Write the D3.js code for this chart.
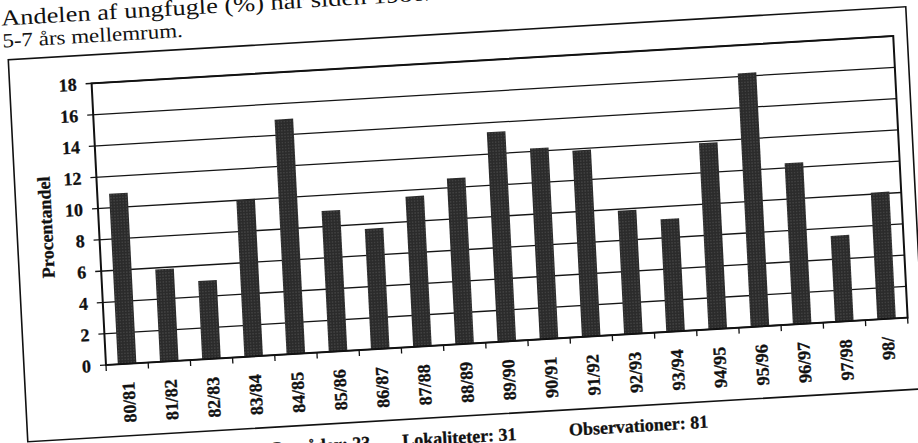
<!DOCTYPE html>
<html>
<head>
<meta charset="utf-8">
<script src="https://cdn.jsdelivr.net/npm/d3@7"></script>
<style>
  body { margin: 0; background: #fff; }
  svg { display: block; }
  text { font-family: "Liberation Serif", "Times New Roman", serif; fill: #111; }
</style>
</head>
<body>
<div id="chart"></div>
<script>
// data
var seasons = ["80/81", "81/82", "82/83", "83/84", "84/85", "85/86", "86/87", "87/88", "88/89", "89/90",
               "90/91", "91/92", "92/93", "93/94", "94/95", "95/96", "96/97", "97/98", "98/"];
var shares = [10.9, 5.9, 5.0, 10.0, 15.0, 9.0, 7.7, 9.6, 10.6, 13.4,
              12.2, 11.9, 7.9, 7.2, 11.9, 16.2, 10.3, 5.5, 8.1];
var yTicks = [0, 2, 4, 6, 8, 10, 12, 14, 16, 18];
var titleLines = ["Andelen af ungfugle (%) har siden 1980/81 svinget med toppe med",
                  "5-7 års mellemrum."];
var yTitle = "Procentandel";
var footerLabels = ["Områder: 23", "Lokaliteter: 31", "Observationer: 81"];

var svgWidth = 918;
var svgHeight = 443;

var width = 803;
var height = 282;

var svg = d3.select("#chart")
  .append("svg")
  .attr("width", svgWidth)
  .attr("height", svgHeight);

svg.append("rect")
  .attr("width", svgWidth)
  .attr("height", svgHeight)
  .attr("fill", "#fff");

// halftone fill of the printed bars
var defs = svg.append("defs");
var pat = defs.append("pattern")
  .attr("id", "halftone")
  .attr("width", 3)
  .attr("height", 3)
  .attr("patternUnits", "userSpaceOnUse");
pat.append("rect").attr("width", 3).attr("height", 3).attr("fill", "#2b2b2b");
pat.append("rect").attr("x", 1).attr("y", 1).attr("width", 1).attr("height", 1).attr("fill", "#5a5a5a");

// the page was scanned slightly askew
var page = svg.append("g")
  .attr("transform", "matrix(0.9983,-0.059,0.051,0.9987,91.6,83.4)");

// title (cut by the top of the scan)
var titleSize = [22, 20];
var titleStretch = [1.2, 1.15];
page.selectAll(".title")
  .data(titleLines)
  .enter()
  .append("text")
  .attr("class", "title")
  .attr("x", -87)
  .attr("y", (d, i) => -63 + i * 22)
  .attr("font-size", (d, i) => titleSize[i])
  .attr("transform", (d, i) => `translate(-87,0) scale(${titleStretch[i]},1) translate(87,0)`)
  .text(d => d);

// outer frame
page.append("rect")
  .attr("x", -82)
  .attr("y", -28.5)
  .attr("width", width + 82 + 14)
  .attr("height", 354 + 28.5)
  .attr("fill", "none")
  .attr("stroke", "#111")
  .attr("stroke-width", 1.6);

// scales
var xScale = d3.scaleBand()
  .domain(seasons)
  .range([0, width])
  .paddingInner(0.56)
  .paddingOuter(0.28);

var yScale = d3.scaleLinear()
  .domain([0, 18])
  .range([height, 0]);

// gridlines with short outside ticks
page.append("g")
  .selectAll("line")
  .data(yTicks)
  .enter()
  .append("line")
  .attr("x1", -6)
  .attr("x2", width)
  .attr("y1", d => yScale(d))
  .attr("y2", d => yScale(d))
  .attr("stroke", "#151515")
  .attr("stroke-width", 1.3);

// bars
page.append("g")
  .selectAll("rect")
  .data(seasons)
  .enter()
  .append("rect")
  .attr("x", d => xScale(d))
  .attr("width", xScale.bandwidth())
  .attr("y", (d, i) => yScale(shares[i]))
  .attr("height", (d, i) => height - yScale(shares[i]))
  .attr("fill", "url(#halftone)");

// plot area border
page.append("rect")
  .attr("width", width)
  .attr("height", height)
  .attr("fill", "none")
  .attr("stroke", "#111")
  .attr("stroke-width", 2);

// x ticks at category boundaries
var step = xScale.step();
page.append("g")
  .selectAll("line")
  .data(d3.range(seasons.length + 1))
  .enter()
  .append("line")
  .attr("x1", i => i * step)
  .attr("x2", i => i * step)
  .attr("y1", height)
  .attr("y2", height + 6)
  .attr("stroke", "#111")
  .attr("stroke-width", 1.3);

// y tick labels
page.append("g")
  .selectAll("text")
  .data(yTicks)
  .enter()
  .append("text")
  .attr("x", -15)
  .attr("y", d => yScale(d))
  .attr("dy", "0.35em")
  .attr("text-anchor", "end")
  .attr("font-size", 18)
  .attr("font-weight", "bold")
  .attr("stroke", "#111")
  .attr("stroke-width", 0.3)
  .text(d => d);

// x labels, vertical
page.append("g")
  .selectAll("text")
  .data(seasons)
  .enter()
  .append("text")
  .attr("transform", d => `translate(${xScale(d) + xScale.bandwidth() / 2}, ${height + 18}) rotate(-90)`)
  .attr("dy", "0.35em")
  .attr("text-anchor", "end")
  .attr("font-size", 18)
  .attr("font-weight", "bold")
  .attr("stroke", "#111")
  .attr("stroke-width", 0.3)
  .text(d => d);

// y axis title
page.append("text")
  .attr("transform", `translate(-53, ${height / 2}) rotate(-90)`)
  .attr("dy", "0.35em")
  .attr("text-anchor", "middle")
  .attr("font-size", 18)
  .attr("font-weight", "bold")
  .attr("stroke", "#111")
  .attr("stroke-width", 0.3)
  .text(yTitle);

// footer below the frame (cut by the bottom of the scan)
var footerX = [260, 292, 459];
var footerY = [381, 381, 380];
var footerAnchor = ["end", "start", "start"];
page.append("g")
  .selectAll("text")
  .data(footerLabels)
  .enter()
  .append("text")
  .attr("x", (d, i) => footerX[i])
  .attr("y", (d, i) => footerY[i])
  .attr("text-anchor", (d, i) => footerAnchor[i])
  .attr("font-size", 18)
  .attr("font-weight", "bold")
  .attr("stroke", "#111")
  .attr("stroke-width", 0.3)
  .text(d => d);
</script>
</body>
</html>
